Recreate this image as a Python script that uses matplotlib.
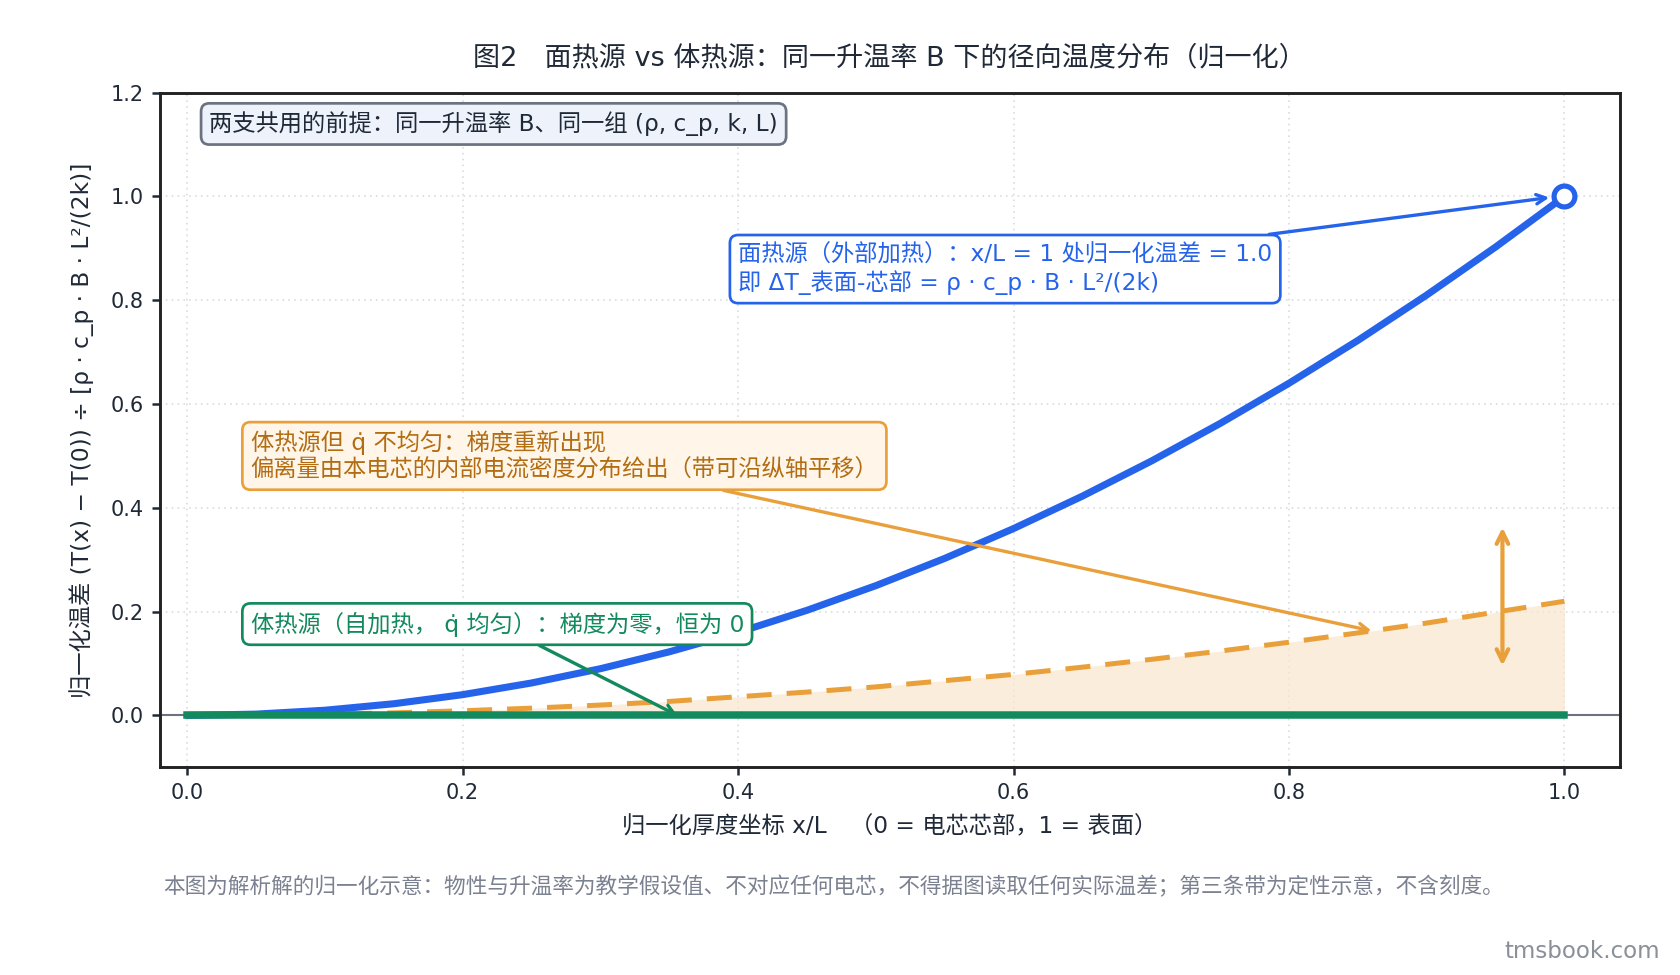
import matplotlib
matplotlib.use("Agg")
import matplotlib.pyplot as plt

plt.rcParams['font.family'] = ['DejaVu Sans', 'Noto Sans CJK SC']
plt.rcParams['axes.unicode_minus'] = False

# ---- data ----
x_vals = [0.0, 0.05, 0.1, 0.15, 0.2, 0.25, 0.3, 0.35, 0.4, 0.45, 0.5,
          0.55, 0.6, 0.65, 0.7, 0.75, 0.8, 0.85, 0.9, 0.95, 1.0]
surface_vals = [0.0, 0.0025, 0.01, 0.0225, 0.04, 0.0625, 0.09, 0.1225, 0.16, 0.2025, 0.25,
                0.3025, 0.36, 0.4225, 0.49, 0.5625, 0.64, 0.7225, 0.81, 0.9025, 1.0]
volume_uniform_vals = [0.0] * 21
volume_nonuniform_vals = [0.0, 0.0006, 0.0022, 0.005, 0.009, 0.014, 0.02, 0.027, 0.036, 0.045, 0.055,
                          0.067, 0.079, 0.093, 0.108, 0.124, 0.141, 0.159, 0.178, 0.199, 0.22]
x_ticks = [0.0, 0.2, 0.4, 0.6, 0.8, 1.0]
y_ticks = [0.0, 0.2, 0.4, 0.6, 0.8, 1.0, 1.2]

BLUE = '#2563eb'
GREEN = '#138a5e'
ORANGE = '#e9a03b'
TEXT = '#1f2937'
QDOT = 'q\u0307'

fig = plt.figure(figsize=(11.2, 6.5), dpi=150)
ax = fig.add_axes([0.095, 0.213, 0.869, 0.692])

ax.set_xlim(-0.02, 1.04)
ax.set_ylim(-0.1, 1.2)
ax.set_xticks(x_ticks)
ax.set_yticks(y_ticks)
ax.grid(True, linestyle=(0, (1, 2.5)), color='#d9dce1', linewidth=0.8)
ax.set_axisbelow(True)
for s in ax.spines.values():
    s.set_color('#222222')
    s.set_linewidth(1.4)
ax.tick_params(labelsize=10, colors=TEXT, length=4, width=1.2)

ax.axhline(0, color='#6b7280', linewidth=1.0, zorder=1)

ax.fill_between(x_vals, volume_uniform_vals, volume_nonuniform_vals, color='#f9e6cc', alpha=0.7,
                linewidth=0, zorder=2)
ax.plot(x_vals, volume_nonuniform_vals, color=ORANGE, linewidth=2.4, dashes=(5, 3), zorder=3)
ax.plot(x_vals, surface_vals, color=BLUE, linewidth=3.4, zorder=4, solid_capstyle='round')
ax.plot(x_vals, volume_uniform_vals, color=GREEN, linewidth=3.6, zorder=5)
ax.plot([x_vals[-1]], [surface_vals[-1]], marker='o', markersize=10, markerfacecolor='white',
        markeredgecolor=BLUE, markeredgewidth=2.5, zorder=6)

# double arrow
ax.annotate('', xy=(0.955, 0.362), xytext=(0.955, 0.096),
            arrowprops=dict(arrowstyle='<->', color=ORANGE, lw=2.0, mutation_scale=14,
                            shrinkA=0, shrinkB=0), zorder=6)

FS = 11.2
# annotations
ax.annotate('面热源（外部加热）：x/L = 1 处归一化温差 = 1.0\n即 ΔT_表面-芯部 = ρ · c_p · B · L²/(2k)',
            xy=(0.995, 1.0), xytext=(0.40, 0.86), ha='left', va='center',
            fontsize=FS, color=BLUE, linespacing=1.2,
            bbox=dict(boxstyle='round,pad=0.35', fc='white', ec=BLUE, lw=1.3),
            arrowprops=dict(arrowstyle='->', color=BLUE, lw=1.6, shrinkA=0, shrinkB=4),
            zorder=7)

ax.annotate('体热源但 ' + QDOT + ' 不均匀：梯度重新出现\n偏离量由本电芯的内部电流密度分布给出（带可沿纵轴平移）',
            xy=(0.86, 0.163), xytext=(0.046, 0.50), ha='left', va='center',
            fontsize=FS, color='#b26d12', linespacing=1.2,
            bbox=dict(boxstyle='round,pad=0.35', fc='#fff5e8', ec=ORANGE, lw=1.3),
            arrowprops=dict(arrowstyle='->', color=ORANGE, lw=1.6, shrinkA=0, shrinkB=0),
            zorder=7)

ax.annotate('体热源（自加热， ' + QDOT + ' 均匀）：梯度为零，恒为 0',
            xy=(0.356, 0.0), xytext=(0.046, 0.176), ha='left', va='center',
            fontsize=FS, color=GREEN,
            bbox=dict(boxstyle='round,pad=0.35', fc='white', ec=GREEN, lw=1.3),
            arrowprops=dict(arrowstyle='->', color=GREEN, lw=1.6, shrinkA=0, shrinkB=0),
            zorder=7)

ax.text(0.034, 0.972, '两支共用的前提：同一升温率 B、同一组 (ρ, c_p, k, L)',
        transform=ax.transAxes, ha='left', va='top', fontsize=FS, color=TEXT,
        bbox=dict(boxstyle='round,pad=0.35', fc='#eef2fa', ec='#6b7280', lw=1.3), zorder=7)

ax.set_title('图2　面热源 vs 体热源：同一升温率 B 下的径向温度分布（归一化）',
             fontsize=13, color=TEXT, pad=13)
ax.set_xlabel('归一化厚度坐标 x/L　（0 = 电芯芯部，1 = 表面）', fontsize=11.2, color=TEXT, labelpad=6)
ax.set_ylabel('归一化温差 (T(x) − T(0)) ÷ [ρ · c_p · B · L²/(2k)]', fontsize=11.2,
              color=TEXT, labelpad=8)

fig.text(0.097, 0.091, '本图为解析解的归一化示意：物性与升温率为教学假设值、不对应任何电芯，不得据图读取任何实际温差；第三条带为定性示意，不含刻度。',
         fontsize=10.4, color='#7b8190', ha='left', va='center')
fig.text(0.988, 0.024, 'tmsbook.com', fontsize=11, color='#8a8f99', ha='right', va='center')

fig.savefig('out.png', dpi=150)
